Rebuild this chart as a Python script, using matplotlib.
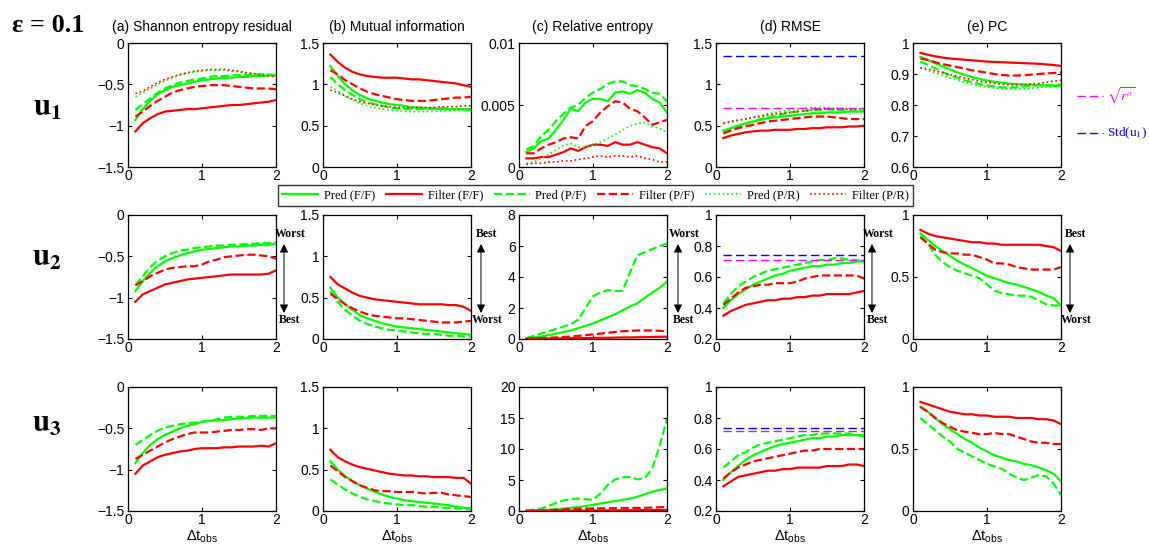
import matplotlib
matplotlib.use('Agg')
import matplotlib.pyplot as plt
from matplotlib.ticker import FuncFormatter
from matplotlib.lines import Line2D

# ---------------- data ----------------
dt = [0.1, 0.2, 0.3, 0.4, 0.5, 0.6, 0.7, 0.8, 0.9, 1.0,
      1.1, 1.2, 1.3, 1.4, 1.5, 1.6, 1.7, 1.8, 1.9, 2.0]

series_labels = ['Pred (F/F)', 'Filter (F/F)', 'Pred (P/F)', 'Filter (P/F)', 'Pred (P/R)', 'Filter (P/R)']
col_titles = ['(a) Shannon entropy residual', '(b) Mutual information', '(c) Relative entropy', '(d) RMSE', '(e) PC']
row_names = ['1', '2', '3']

# ---- u1 ----
a1_pred_ff = [-0.93,-0.80,-0.70,-0.62,-0.57,-0.53,-0.51,-0.49,-0.47,-0.45,-0.44,-0.43,-0.42,-0.42,-0.41,-0.41,-0.40,-0.40,-0.39,-0.39]
a1_filt_ff = [-1.07,-0.97,-0.91,-0.86,-0.83,-0.82,-0.81,-0.80,-0.80,-0.79,-0.78,-0.77,-0.76,-0.75,-0.75,-0.74,-0.73,-0.72,-0.71,-0.69]
a1_pred_pf = [-0.81,-0.74,-0.67,-0.60,-0.55,-0.51,-0.48,-0.46,-0.44,-0.43,-0.41,-0.40,-0.40,-0.39,-0.39,-0.39,-0.38,-0.38,-0.38,-0.40]
a1_filt_pf = [-0.89,-0.83,-0.76,-0.70,-0.65,-0.60,-0.57,-0.55,-0.53,-0.52,-0.51,-0.51,-0.51,-0.52,-0.53,-0.54,-0.55,-0.55,-0.55,-0.56]
a1_pred_pr = [-0.65,-0.60,-0.55,-0.50,-0.46,-0.42,-0.39,-0.37,-0.35,-0.34,-0.33,-0.33,-0.33,-0.34,-0.35,-0.37,-0.37,-0.38,-0.38,-0.38]
a1_filt_pr = [-0.61,-0.58,-0.53,-0.48,-0.44,-0.41,-0.38,-0.36,-0.34,-0.33,-0.32,-0.32,-0.32,-0.33,-0.34,-0.36,-0.37,-0.39,-0.40,-0.41]

b1_pred_ff = [1.22,1.10,1.00,0.93,0.87,0.83,0.80,0.78,0.76,0.75,0.74,0.72,0.72,0.71,0.71,0.70,0.70,0.70,0.70,0.69]
b1_filt_ff = [1.36,1.27,1.20,1.15,1.12,1.10,1.09,1.08,1.08,1.08,1.07,1.06,1.06,1.05,1.04,1.03,1.02,1.01,0.99,0.97]
b1_pred_pf = [1.09,1.00,0.93,0.87,0.82,0.78,0.76,0.74,0.72,0.71,0.70,0.70,0.70,0.70,0.70,0.71,0.71,0.70,0.70,0.70]
b1_filt_pf = [1.17,1.12,1.05,1.00,0.95,0.91,0.88,0.86,0.84,0.82,0.81,0.80,0.80,0.80,0.81,0.82,0.83,0.84,0.84,0.85]
b1_pred_pr = [0.97,0.92,0.86,0.81,0.77,0.74,0.72,0.70,0.69,0.68,0.67,0.67,0.67,0.67,0.67,0.68,0.68,0.69,0.69,0.70]
b1_filt_pr = [0.93,0.90,0.86,0.82,0.79,0.77,0.75,0.74,0.73,0.72,0.72,0.72,0.72,0.72,0.72,0.73,0.73,0.73,0.74,0.74]

c1_pred_ff = [0.0012,0.0015,0.0021,0.0023,0.0030,0.0038,0.0047,0.0045,0.0052,0.0055,0.0055,0.0053,0.0060,0.0061,0.0059,0.0062,0.0060,0.0055,0.0052,0.0044]
c1_filt_ff = [0.0007,0.0007,0.0008,0.0008,0.0010,0.0012,0.0015,0.0013,0.0016,0.0018,0.0018,0.0017,0.0020,0.0018,0.0018,0.0020,0.0018,0.0016,0.0015,0.0011]
c1_pred_pf = [0.0014,0.0017,0.0025,0.0030,0.0037,0.0043,0.0048,0.0050,0.0056,0.0060,0.0063,0.0067,0.0069,0.0069,0.0066,0.0065,0.0063,0.0060,0.0059,0.0053]
c1_filt_pf = [0.0011,0.0011,0.0015,0.0018,0.0020,0.0023,0.0024,0.0023,0.0033,0.0037,0.0044,0.0049,0.0053,0.0052,0.0047,0.0045,0.0040,0.0034,0.0036,0.0038]
c1_pred_pr = [0.0003,0.0004,0.0007,0.0010,0.0014,0.0017,0.0019,0.0016,0.0016,0.0018,0.0020,0.0023,0.0026,0.0030,0.0033,0.0035,0.0036,0.0033,0.0031,0.0028]
c1_filt_pr = [0.0002,0.0003,0.0003,0.0004,0.0004,0.0005,0.0005,0.0006,0.0007,0.0008,0.0009,0.0008,0.0009,0.0009,0.0008,0.0009,0.0007,0.0006,0.0004,0.0004]

d1_pred_ff = [0.44,0.47,0.50,0.53,0.55,0.57,0.59,0.60,0.61,0.62,0.63,0.64,0.65,0.65,0.66,0.66,0.66,0.67,0.67,0.67]
d1_filt_ff = [0.35,0.38,0.40,0.42,0.43,0.44,0.44,0.45,0.45,0.45,0.46,0.46,0.47,0.47,0.48,0.48,0.48,0.49,0.49,0.50]
d1_pred_pf = [0.40,0.45,0.49,0.52,0.55,0.58,0.60,0.62,0.64,0.66,0.67,0.68,0.69,0.69,0.70,0.69,0.69,0.68,0.68,0.68]
d1_filt_pf = [0.41,0.44,0.47,0.49,0.51,0.53,0.55,0.56,0.57,0.58,0.59,0.60,0.61,0.61,0.61,0.60,0.59,0.58,0.58,0.58]
d1_pred_pr = [0.52,0.54,0.56,0.58,0.60,0.62,0.64,0.66,0.67,0.69,0.70,0.71,0.72,0.72,0.72,0.71,0.71,0.70,0.70,0.70]
d1_filt_pr = [0.53,0.55,0.57,0.58,0.60,0.61,0.63,0.64,0.65,0.66,0.67,0.68,0.69,0.70,0.70,0.70,0.70,0.70,0.70,0.70]

e1_pred_ff = [0.955,0.945,0.935,0.925,0.915,0.905,0.897,0.890,0.884,0.879,0.875,0.872,0.869,0.867,0.866,0.865,0.864,0.863,0.862,0.861]
e1_filt_ff = [0.968,0.962,0.957,0.953,0.950,0.948,0.946,0.944,0.942,0.940,0.939,0.938,0.937,0.936,0.935,0.934,0.933,0.931,0.929,0.926]
e1_pred_pf = [0.940,0.930,0.918,0.906,0.896,0.888,0.880,0.874,0.868,0.863,0.860,0.857,0.856,0.857,0.860,0.862,0.864,0.864,0.865,0.865]
e1_filt_pf = [0.950,0.945,0.938,0.932,0.927,0.922,0.917,0.912,0.908,0.904,0.900,0.897,0.895,0.895,0.896,0.898,0.900,0.902,0.903,0.905]
e1_pred_pr = [0.920,0.912,0.903,0.895,0.887,0.880,0.873,0.867,0.862,0.858,0.855,0.852,0.851,0.851,0.852,0.854,0.856,0.858,0.860,0.862]
e1_filt_pr = [0.920,0.916,0.910,0.904,0.898,0.893,0.887,0.882,0.877,0.873,0.870,0.867,0.865,0.865,0.866,0.868,0.870,0.873,0.877,0.880]

# ---- u2 ----
a2_pred_ff = [-0.92,-0.80,-0.70,-0.62,-0.56,-0.52,-0.49,-0.46,-0.44,-0.42,-0.41,-0.40,-0.39,-0.38,-0.38,-0.37,-0.37,-0.36,-0.36,-0.35]
a2_filt_ff = [-1.05,-0.96,-0.92,-0.88,-0.84,-0.82,-0.80,-0.78,-0.77,-0.76,-0.75,-0.74,-0.73,-0.72,-0.72,-0.72,-0.72,-0.72,-0.71,-0.67]
a2_pred_pf = [-0.85,-0.74,-0.63,-0.55,-0.50,-0.46,-0.43,-0.42,-0.40,-0.39,-0.38,-0.37,-0.37,-0.36,-0.36,-0.35,-0.35,-0.34,-0.34,-0.33]
a2_filt_pf = [-0.85,-0.80,-0.74,-0.70,-0.66,-0.64,-0.63,-0.62,-0.62,-0.60,-0.56,-0.54,-0.51,-0.50,-0.49,-0.48,-0.48,-0.49,-0.50,-0.53]

b2_pred_ff = [0.62,0.50,0.42,0.35,0.29,0.25,0.22,0.19,0.17,0.15,0.14,0.13,0.12,0.11,0.10,0.09,0.08,0.07,0.06,0.05]
b2_filt_ff = [0.75,0.66,0.61,0.56,0.52,0.50,0.48,0.47,0.46,0.45,0.44,0.43,0.42,0.42,0.42,0.42,0.41,0.41,0.39,0.34]
b2_pred_pf = [0.58,0.45,0.35,0.28,0.22,0.18,0.15,0.13,0.11,0.10,0.09,0.08,0.07,0.06,0.06,0.05,0.04,0.04,0.03,0.03]
b2_filt_pf = [0.55,0.48,0.42,0.37,0.33,0.30,0.28,0.27,0.26,0.25,0.25,0.24,0.23,0.22,0.21,0.20,0.20,0.20,0.21,0.22]

c2_pred_ff = [0.05,0.10,0.15,0.25,0.35,0.45,0.55,0.70,0.85,1.00,1.20,1.40,1.60,1.85,2.10,2.30,2.65,3.00,3.30,3.70]
c2_filt_ff = [0.02,0.02,0.03,0.03,0.04,0.04,0.05,0.05,0.06,0.07,0.08,0.08,0.09,0.10,0.10,0.11,0.12,0.13,0.14,0.15]
c2_pred_pf = [0.05,0.20,0.35,0.50,0.65,0.80,0.95,1.25,2.00,2.75,3.00,3.15,3.10,3.10,4.30,5.40,5.60,5.80,6.00,6.15]
c2_filt_pf = [0.02,0.04,0.06,0.08,0.10,0.13,0.16,0.20,0.25,0.30,0.35,0.40,0.45,0.50,0.52,0.55,0.55,0.55,0.53,0.50]

d2_pred_ff = [0.40,0.45,0.49,0.52,0.55,0.57,0.59,0.61,0.62,0.64,0.65,0.66,0.67,0.67,0.68,0.68,0.69,0.69,0.70,0.70]
d2_filt_ff = [0.35,0.38,0.40,0.42,0.43,0.44,0.45,0.45,0.46,0.46,0.47,0.47,0.48,0.48,0.49,0.49,0.49,0.49,0.50,0.51]
d2_pred_pf = [0.43,0.49,0.54,0.57,0.60,0.62,0.64,0.65,0.66,0.67,0.68,0.69,0.70,0.71,0.71,0.72,0.72,0.71,0.71,0.70]
d2_filt_pf = [0.42,0.46,0.50,0.53,0.54,0.55,0.55,0.56,0.56,0.56,0.57,0.59,0.60,0.61,0.61,0.61,0.61,0.61,0.61,0.59]

e2_pred_ff = [0.85,0.80,0.75,0.71,0.67,0.63,0.60,0.57,0.54,0.51,0.49,0.47,0.45,0.44,0.42,0.40,0.38,0.35,0.33,0.27]
e2_filt_ff = [0.88,0.85,0.83,0.82,0.81,0.80,0.79,0.78,0.78,0.77,0.77,0.76,0.76,0.76,0.76,0.76,0.76,0.75,0.74,0.71]
e2_pred_pf = [0.83,0.77,0.68,0.62,0.58,0.55,0.53,0.51,0.49,0.44,0.39,0.37,0.36,0.35,0.35,0.34,0.31,0.28,0.27,0.27]
e2_filt_pf = [0.82,0.77,0.72,0.70,0.69,0.69,0.68,0.68,0.66,0.64,0.61,0.61,0.60,0.58,0.57,0.56,0.56,0.56,0.56,0.58]

# ---- u3 ----
a3_pred_ff = [-0.92,-0.80,-0.70,-0.63,-0.58,-0.54,-0.50,-0.47,-0.45,-0.42,-0.41,-0.40,-0.40,-0.39,-0.38,-0.38,-0.37,-0.37,-0.37,-0.37]
a3_filt_ff = [-1.05,-0.95,-0.90,-0.85,-0.82,-0.80,-0.78,-0.77,-0.75,-0.74,-0.74,-0.74,-0.73,-0.73,-0.72,-0.72,-0.72,-0.71,-0.72,-0.68]
a3_pred_pf = [-0.70,-0.64,-0.58,-0.53,-0.49,-0.47,-0.45,-0.44,-0.43,-0.42,-0.41,-0.39,-0.37,-0.36,-0.36,-0.36,-0.35,-0.35,-0.35,-0.35]
a3_filt_pf = [-0.87,-0.82,-0.77,-0.72,-0.67,-0.63,-0.60,-0.57,-0.55,-0.55,-0.55,-0.54,-0.53,-0.52,-0.52,-0.51,-0.51,-0.52,-0.50,-0.50]

b3_pred_ff = [0.60,0.50,0.42,0.36,0.31,0.27,0.23,0.20,0.17,0.15,0.13,0.12,0.11,0.10,0.09,0.08,0.07,0.05,0.04,0.03]
b3_filt_ff = [0.74,0.65,0.60,0.56,0.53,0.51,0.49,0.47,0.45,0.44,0.43,0.43,0.42,0.42,0.41,0.41,0.41,0.40,0.40,0.33]
b3_pred_pf = [0.38,0.32,0.26,0.21,0.17,0.14,0.12,0.10,0.09,0.08,0.07,0.07,0.06,0.05,0.05,0.04,0.04,0.03,0.03,0.02]
b3_filt_pf = [0.55,0.48,0.41,0.36,0.31,0.28,0.25,0.24,0.24,0.23,0.23,0.23,0.22,0.21,0.22,0.22,0.20,0.19,0.18,0.17]

c3_pred_ff = [0.05,0.10,0.15,0.20,0.30,0.40,0.50,0.65,0.80,1.00,1.20,1.40,1.60,1.80,2.00,2.30,2.70,3.10,3.40,3.60]
c3_filt_ff = [0.02,0.03,0.03,0.04,0.05,0.05,0.06,0.07,0.07,0.08,0.09,0.10,0.10,0.11,0.12,0.12,0.13,0.14,0.15,0.15]
c3_pred_pf = [0.10,0.20,0.40,0.80,1.30,1.70,1.90,2.00,1.90,1.80,2.80,4.20,5.10,5.40,5.50,5.10,5.30,6.80,10.5,14.8]
c3_filt_pf = [0.05,0.08,0.10,0.15,0.20,0.25,0.30,0.35,0.38,0.40,0.42,0.45,0.45,0.48,0.50,0.50,0.52,0.55,0.60,0.65]

d3_pred_ff = [0.40,0.45,0.49,0.53,0.56,0.58,0.60,0.62,0.63,0.64,0.65,0.66,0.67,0.67,0.68,0.68,0.69,0.69,0.69,0.69]
d3_filt_ff = [0.36,0.39,0.42,0.43,0.44,0.45,0.46,0.46,0.47,0.47,0.48,0.48,0.48,0.48,0.49,0.49,0.49,0.50,0.50,0.49]
d3_pred_pf = [0.48,0.52,0.56,0.58,0.61,0.63,0.64,0.65,0.66,0.67,0.68,0.69,0.69,0.70,0.70,0.70,0.70,0.70,0.69,0.68]
d3_filt_pf = [0.41,0.45,0.48,0.50,0.52,0.53,0.54,0.55,0.56,0.57,0.58,0.59,0.59,0.60,0.60,0.60,0.60,0.60,0.60,0.60]

e3_pred_ff = [0.84,0.80,0.75,0.70,0.66,0.62,0.58,0.55,0.51,0.48,0.45,0.43,0.41,0.40,0.38,0.37,0.35,0.33,0.30,0.24]
e3_filt_ff = [0.88,0.86,0.84,0.82,0.80,0.79,0.78,0.78,0.77,0.77,0.76,0.76,0.76,0.75,0.75,0.75,0.74,0.74,0.73,0.70]
e3_pred_pf = [0.75,0.70,0.65,0.60,0.56,0.50,0.47,0.44,0.41,0.38,0.36,0.34,0.30,0.27,0.25,0.27,0.29,0.28,0.22,0.13]
e3_filt_pf = [0.84,0.80,0.75,0.71,0.68,0.65,0.64,0.63,0.62,0.62,0.63,0.62,0.62,0.60,0.58,0.56,0.55,0.55,0.54,0.54]

# reference levels in RMSE panels
std_u = [1.34, 0.74, 0.735]
sqrt_ro = [0.71, 0.71, 0.715]

# axis ranges / ticks per row, per column
ylims = [
    [(-1.5, 0), (0, 1.5), (0, 0.01), (0, 1.5), (0.6, 1.0)],
    [(-1.5, 0), (0, 1.5), (0, 8), (0.2, 1.0), (0, 1.0)],
    [(-1.5, 0), (0, 1.5), (0, 20), (0.2, 1.0), (0, 1.0)],
]
yticks = [
    [[-1.5, -1, -0.5, 0], [0, 0.5, 1, 1.5], [0, 0.005, 0.01], [0, 0.5, 1, 1.5], [0.6, 0.7, 0.8, 0.9, 1]],
    [[-1.5, -1, -0.5, 0], [0, 0.5, 1, 1.5], [0, 2, 4, 6, 8], [0.2, 0.4, 0.6, 0.8, 1], [0, 0.5, 1]],
    [[-1.5, -1, -0.5, 0], [0, 0.5, 1, 1.5], [0, 5, 10, 15, 20], [0.2, 0.4, 0.6, 0.8, 1], [0, 0.5, 1]],
]

grid = [
    [[a1_pred_ff, a1_filt_ff, a1_pred_pf, a1_filt_pf, a1_pred_pr, a1_filt_pr],
     [b1_pred_ff, b1_filt_ff, b1_pred_pf, b1_filt_pf, b1_pred_pr, b1_filt_pr],
     [c1_pred_ff, c1_filt_ff, c1_pred_pf, c1_filt_pf, c1_pred_pr, c1_filt_pr],
     [d1_pred_ff, d1_filt_ff, d1_pred_pf, d1_filt_pf, d1_pred_pr, d1_filt_pr],
     [e1_pred_ff, e1_filt_ff, e1_pred_pf, e1_filt_pf, e1_pred_pr, e1_filt_pr]],
    [[a2_pred_ff, a2_filt_ff, a2_pred_pf, a2_filt_pf],
     [b2_pred_ff, b2_filt_ff, b2_pred_pf, b2_filt_pf],
     [c2_pred_ff, c2_filt_ff, c2_pred_pf, c2_filt_pf],
     [d2_pred_ff, d2_filt_ff, d2_pred_pf, d2_filt_pf],
     [e2_pred_ff, e2_filt_ff, e2_pred_pf, e2_filt_pf]],
    [[a3_pred_ff, a3_filt_ff, a3_pred_pf, a3_filt_pf],
     [b3_pred_ff, b3_filt_ff, b3_pred_pf, b3_filt_pf],
     [c3_pred_ff, c3_filt_ff, c3_pred_pf, c3_filt_pf],
     [d3_pred_ff, d3_filt_ff, d3_pred_pf, d3_filt_pf],
     [e3_pred_ff, e3_filt_ff, e3_pred_pf, e3_filt_pf]],
]

# ---------------- styling ----------------
plt.rcParams['font.family'] = ['Liberation Sans', 'DejaVu Sans']
plt.rcParams['mathtext.fontset'] = 'custom'
plt.rcParams['mathtext.rm'] = 'Liberation Sans'
plt.rcParams['mathtext.it'] = 'Liberation Sans:italic'
plt.rcParams['mathtext.bf'] = 'Liberation Sans:bold'

GREEN = '#00ff00'
RED = '#ff0000'
styles = [
    dict(color=GREEN, ls='-', lw=1.6),
    dict(color=RED, ls='-', lw=1.6),
    dict(color=GREEN, ls='--', lw=1.6),
    dict(color=RED, ls='--', lw=1.6),
    dict(color=GREEN, ls=':', lw=1.2),
    dict(color=RED, ls=':', lw=1.2),
]

W, H = 1149, 550
fig = plt.figure(figsize=(W / 100, H / 100), dpi=100)


def fx(x):
    return x / W


def fy(y):
    return 1 - y / H


col_left = [128, 323, 519, 716, 913]
row_top = [43, 215, 387]
ax_w, ax_h = 148, 124

fmt = FuncFormatter(lambda v, p: ('%g' % v).replace('-', '\u2212'))

for r in range(3):
    for c in range(5):
        ax = fig.add_axes([fx(col_left[c]), fy(row_top[r] + ax_h), ax_w / W, ax_h / H])
        for k, ys in enumerate(grid[r][c]):
            ax.plot(dt, ys, **styles[k])
        if c == 3:
            ax.plot([dt[0], dt[-1]], [std_u[r], std_u[r]], color='#0000ff', ls=(0, (6, 3)), lw=1.0)
            ax.plot([dt[0], dt[-1]], [sqrt_ro[r], sqrt_ro[r]], color='#ff00ff', ls=(0, (6, 3)), lw=1.0)
        ax.set_xlim(0, 2)
        ax.set_ylim(*ylims[r][c])
        ax.set_xticks([0, 1, 2])
        ax.set_yticks(yticks[r][c])
        ax.xaxis.set_major_formatter(fmt)
        ax.yaxis.set_major_formatter(fmt)
        ax.tick_params(direction='in', top=True, right=True, length=3, width=0.8, labelsize=10)
        ax.tick_params(axis='x', pad=1.5)
        ax.tick_params(axis='y', pad=2.5)
        for sp in ax.spines.values():
            sp.set_linewidth(0.9)
        if r == 0:
            ax.set_title(col_titles[c], fontsize=10, pad=9)
        if r == 2:
            ax.set_xlabel(r'$\Delta\mathrm{t}_{\mathrm{obs}}$', fontsize=10.5, labelpad=1)

# row labels
row_label_y = [108, 258, 423]
for r in range(3):
    fig.text(fx(47), fy(row_label_y[r]), r'$\mathbf{u_{%s}}$' % row_names[r], fontsize=22,
             math_fontfamily='stix', ha='center', va='center')

fig.text(fx(12), fy(25), '\u03b5 = 0.1', fontsize=19, fontweight='bold',
         family='Liberation Serif', ha='left', va='center')

# legend
handles = [Line2D([], [], **s) for s in styles]
leg = fig.legend(handles, series_labels, loc='center', bbox_to_anchor=(fx(595.5), fy(195.5)),
                 ncol=6, prop={'family': 'Liberation Serif', 'size': 9}, frameon=True,
                 fancybox=False, edgecolor='black', handlelength=2.9, columnspacing=0.85,
                 handletextpad=0.45, borderpad=0.35, borderaxespad=0)
leg.get_frame().set_linewidth(1.0)

# reference-line legend at right
fig.add_artist(Line2D([fx(1077), fx(1103)], [fy(96), fy(96)], color='#ff00ff', ls=(0, (6, 3)), lw=1.0))
fig.text(fx(1107), fy(96), r'$\sqrt{r^o}$', color='#ff00ff', fontsize=9.5,
         math_fontfamily='stix', ha='left', va='center')
fig.add_artist(Line2D([fx(1077), fx(1103)], [fy(133), fy(133)], color='#0000ff', ls=(0, (6, 3)), lw=1.0))
fig.text(fx(1107), fy(133), r'Std(u$_1$)', color='#0000ff', fontsize=9.5,
         family='Liberation Serif', math_fontfamily='stix', ha='left', va='center')

# Best / Worst arrows
arrows = [(284, 'Worst', 'Best'), (481, 'Best', 'Worst'), (678, 'Worst', 'Best'),
          (872, 'Worst', 'Best'), (1070, 'Best', 'Worst')]
for x, top, bot in arrows:
    fig.add_artist(matplotlib.patches.FancyArrowPatch(
        (fx(x), fy(313)), (fx(x), fy(244)), transform=fig.transFigure,
        arrowstyle='<|-|>,head_length=5,head_width=2.5', color='black', lw=0.7,
        shrinkA=0, shrinkB=0))
    fig.text(fx(x + 6), fy(234), top, fontsize=8.5, fontweight='bold', family='Liberation Serif',
             ha='center', va='center')
    fig.text(fx(x + 6), fy(320), bot, fontsize=8.5, fontweight='bold', family='Liberation Serif',
             ha='center', va='center')

fig.savefig('out.png', dpi=100)
